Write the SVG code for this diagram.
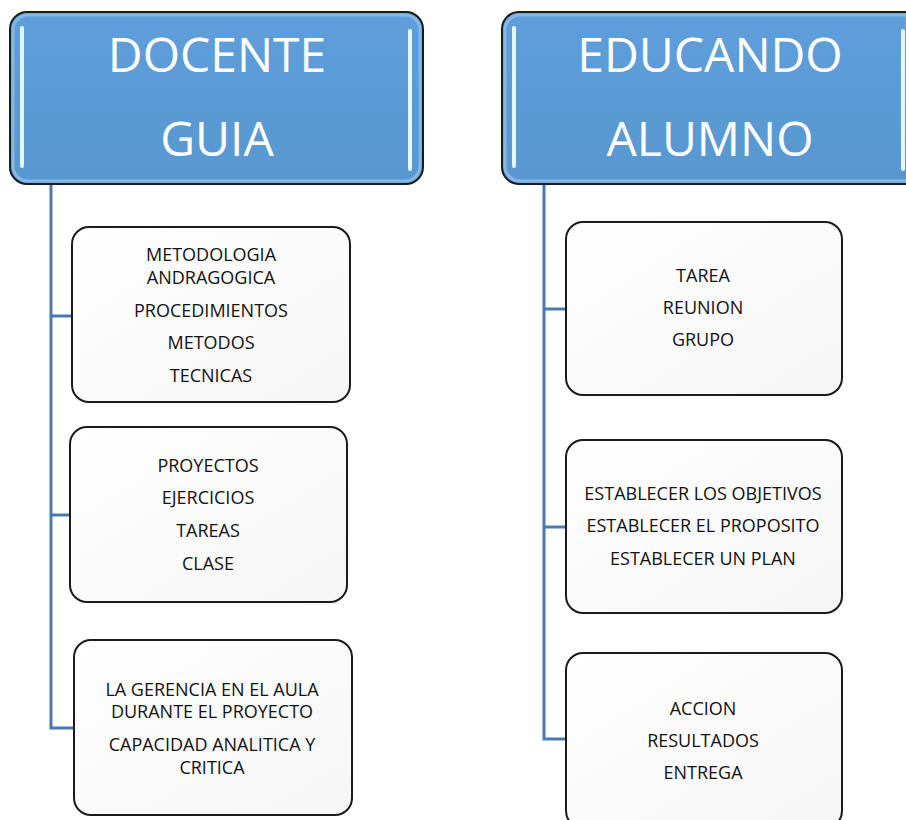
<svg xmlns="http://www.w3.org/2000/svg" width="906" height="820" viewBox="0 0 906 820">
<style>
.hdr{fill:url(#hg);stroke:#1b1b1b;stroke-width:2}
.glow{fill:none;stroke:#86b8e6;stroke-width:3}
.bar{stroke:#e4f6ff;stroke-width:4;stroke-linecap:round}
.ht{font-family:"Open Sans","Liberation Sans",sans-serif;font-size:48px;fill:#ffffff;text-anchor:middle}
.box{fill:url(#bg);stroke:#1b1b1b;stroke-width:2}
.t{font-family:"Open Sans","Liberation Sans",sans-serif;font-size:18px;fill:#111;text-anchor:middle}
.con{fill:none;stroke:#4a7ab0;stroke-width:3}
</style>
<defs>
<linearGradient id="hg" x1="0" y1="0" x2="0" y2="1">
<stop offset="0" stop-color="#5f9edb"/>
<stop offset="0.5" stop-color="#5b9bd5"/>
<stop offset="1" stop-color="#5897d0"/>
</linearGradient>
<linearGradient id="bg" x1="0" y1="0" x2="1" y2="1">
<stop offset="0" stop-color="#ffffff"/>
<stop offset="1" stop-color="#f6f6f6"/>
</linearGradient>
</defs>
<rect width="906" height="820" fill="#ffffff"/>
<g id="connectors">
<path class="con" d="M51 185 V728 H73 M51 316 H72 M51 515 H70"/>
<path class="con" d="M544 185 V739 H565 M544 309 H565 M544 527 H565"/>
</g>
<g id="docente">
<rect class="hdr" x="10" y="12" width="413" height="172" rx="17"/>
<rect class="glow" x="13" y="15" width="407" height="166" rx="15"/>
<line class="bar" x1="22" y1="28" x2="22" y2="166"/>
<line class="bar" x1="410" y1="31" x2="410" y2="169"/>
<text class="ht" x="217" y="72">DOCENTE</text>
<text class="ht" x="217" y="156">GUIA</text>
</g>
<g id="educando">
<rect class="hdr" x="502" y="12" width="420" height="172" rx="17"/>
<rect class="glow" x="505" y="15" width="414" height="166" rx="15"/>
<line class="bar" x1="514" y1="28" x2="514" y2="166"/>
<line class="bar" x1="903" y1="31" x2="903" y2="169"/>
<text class="ht" x="710" y="72">EDUCANDO</text>
<text class="ht" x="710" y="156">ALUMNO</text>
</g>
<g id="metodologia">
<rect class="box" x="72" y="227" width="278" height="175" rx="17"/>
<text class="t" x="211" y="261">METODOLOGIA</text>
<text class="t" x="211" y="284">ANDRAGOGICA</text>
<text class="t" x="211" y="317">PROCEDIMIENTOS</text>
<text class="t" x="211" y="349">METODOS</text>
<text class="t" x="211" y="382">TECNICAS</text>
</g>
<g id="proyectos">
<rect class="box" x="70" y="427" width="277" height="175" rx="17"/>
<text class="t" x="208" y="472">PROYECTOS</text>
<text class="t" x="208" y="504">EJERCICIOS</text>
<text class="t" x="208" y="537">TAREAS</text>
<text class="t" x="208" y="570">CLASE</text>
</g>
<g id="gerencia">
<rect class="box" x="74" y="640" width="278" height="175" rx="17"/>
<text class="t" x="212" y="696">LA GERENCIA EN EL AULA</text>
<text class="t" x="212" y="718">DURANTE EL PROYECTO</text>
<text class="t" x="212" y="751">CAPACIDAD ANALITICA Y</text>
<text class="t" x="212" y="774">CRITICA</text>
</g>
<g id="tarea">
<rect class="box" x="566" y="222" width="276" height="173" rx="17"/>
<text class="t" x="703" y="282">TAREA</text>
<text class="t" x="703" y="314">REUNION</text>
<text class="t" x="703" y="346">GRUPO</text>
</g>
<g id="establecer">
<rect class="box" x="566" y="440" width="276" height="173" rx="17"/>
<text class="t" x="703" y="500">ESTABLECER LOS OBJETIVOS</text>
<text class="t" x="703" y="532">ESTABLECER EL PROPOSITO</text>
<text class="t" x="703" y="565">ESTABLECER UN PLAN</text>
</g>
<g id="accion">
<rect class="box" x="566" y="653" width="276" height="175" rx="17"/>
<text class="t" x="703" y="715">ACCION</text>
<text class="t" x="703" y="747">RESULTADOS</text>
<text class="t" x="703" y="779">ENTREGA</text>
</g>
</svg>
